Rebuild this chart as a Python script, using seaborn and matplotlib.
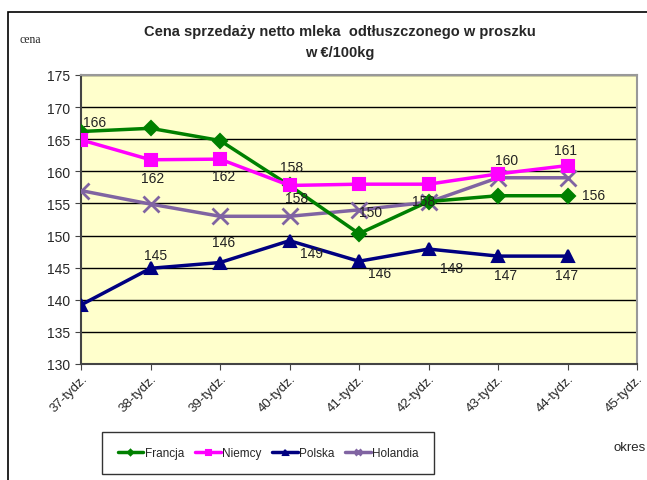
import pandas as pd
import numpy as np
import matplotlib
matplotlib.use('Agg')
import matplotlib.pyplot as plt
import seaborn as sns

# data
weeks = ['37-tydz.', '38-tydz.', '39-tydz.', '40-tydz.', '41-tydz.', '42-tydz.', '43-tydz.', '44-tydz.']
all_weeks = weeks + ['45-tydz.']
francja = [166.2, 166.7, 164.8, 157.8, 150.3, 155.3, 156.2, 156.2]
niemcy = [164.9, 161.8, 161.9, 157.8, 158.0, 158.0, 159.6, 160.9]
polska = [139.2, 144.9, 145.8, 149.2, 146.0, 147.9, 146.8, 146.8]
holandia = [157.0, 154.9, 153.0, 153.0, 154.0, 155.2, 159.0, 159.0]

# data labels as printed on the chart: (x, text, y)
labels = [(0.20, '166', 167.65), (1.03, '162', 159.0), (2.05, '162', 159.3), (3.03, '158', 160.6),
          (3.10, '158', 155.9), (4.16, '150', 153.6), (4.93, '158', 155.4), (6.13, '160', 161.7),
          (6.97, '161', 163.3), (7.37, '156', 156.3), (1.08, '145', 146.9), (2.05, '146', 149.0),
          (3.32, '149', 147.35), (4.30, '146', 144.1), (5.33, '148', 144.9), (6.11, '147', 143.8),
          (6.98, '147', 143.9)]

df = pd.DataFrame({'tydz': list(range(len(weeks))) * 4,
                   'cena': francja + niemcy + polska + holandia,
                   'kraj': ['Francja'] * 8 + ['Niemcy'] * 8 + ['Polska'] * 8 + ['Holandia'] * 8})

sns.set_style('white')
plt.rcParams['font.family'] = ['Liberation Sans', 'DejaVu Sans']

fig = plt.figure(figsize=(6.47, 4.81), dpi=100)
ax = fig.add_axes([81/647, 1-365/481, 556/647, 289/481])
ax.set_facecolor('#ffffcc')

palette = {'Francja': '#008000', 'Niemcy': '#ff00ff', 'Polska': '#000080', 'Holandia': '#8064a2'}
markers = {'Francja': 'D', 'Niemcy': 's', 'Polska': '^', 'Holandia': 'x'}
sizes = {'Francja': 7, 'Niemcy': 9, 'Polska': 9, 'Holandia': 11}

for k in ['Holandia', 'Polska', 'Francja', 'Niemcy']:
    sub = df[df['kraj'] == k]
    sns.lineplot(data=sub, x='tydz', y='cena', ax=ax, color=palette[k], lw=2.5,
                 marker=markers[k], markersize=sizes[k], markeredgewidth=1.5 if k != 'Holandia' else 2,
                 markeredgecolor=palette[k], label=k, legend=False, zorder=3)

for xi, txt, yv in labels:
    ax.text(xi, yv, txt, fontsize=10, ha='center', va='center', color='#222222', zorder=4)

ax.set_xlim(0, 8)
ax.set_ylim(130, 175)
ax.set_yticks(range(130, 176, 5))
ax.set_xticks(range(len(all_weeks)))
ax.set_xticklabels(all_weeks, rotation=45, ha='right', rotation_mode='anchor', fontsize=9.5)
ax.tick_params(axis='y', labelsize=10, length=4, direction='out', left=True, color='#444444')
ax.tick_params(axis='x', length=4, direction='out', bottom=True, color='#444444', pad=2)
ax.grid(axis='y', color='black', lw=1.0)
ax.set_axisbelow(True)
ax.set_xlabel('')
ax.set_ylabel('')
for s in ['top', 'right']:
    ax.spines[s].set_color('#999999')
    ax.spines[s].set_linewidth(1.5)
for s in ['left', 'bottom']:
    ax.spines[s].set_color('#444444')
    ax.spines[s].set_linewidth(1.5)

fig.text(340/647, 1-32/481, 'Cena sprzedaży netto mleka  odtłuszczonego w proszku',
         ha='center', va='center', fontsize=10.5, fontweight='bold')
fig.text(340/647, 1-53/481, 'w €/100kg', ha='center', va='center', fontsize=10.5, fontweight='bold')
fig.text(20/647, 1-40/481, 'cena', ha='left', va='center', fontsize=8.5, family='Liberation Serif')
fig.text(614/647, 1-448/481, 'okres', ha='left', va='center', fontsize=9.5)

# outer border
fig.add_artist(plt.Rectangle((8/647, -0.01), 1.0, 1-13/481 + 0.01, transform=fig.transFigure,
                             fill=False, edgecolor='black', lw=1.2))

order = ['Francja', 'Niemcy', 'Polska', 'Holandia']
handles, lbls = ax.get_legend_handles_labels()
hmap = dict(zip(lbls, handles))
leg = fig.legend([hmap[o] for o in order], order, loc='center', bbox_to_anchor=(268/647, 1-454/481),
                 ncol=4, frameon=True, fontsize=8.5, handlelength=2.2, markerscale=0.4,
                 fancybox=False, edgecolor='black', borderpad=1.3, columnspacing=0.9,
                 handletextpad=0.1)
leg.get_frame().set_linewidth(1.0)

fig.savefig('out.png', dpi=100)
